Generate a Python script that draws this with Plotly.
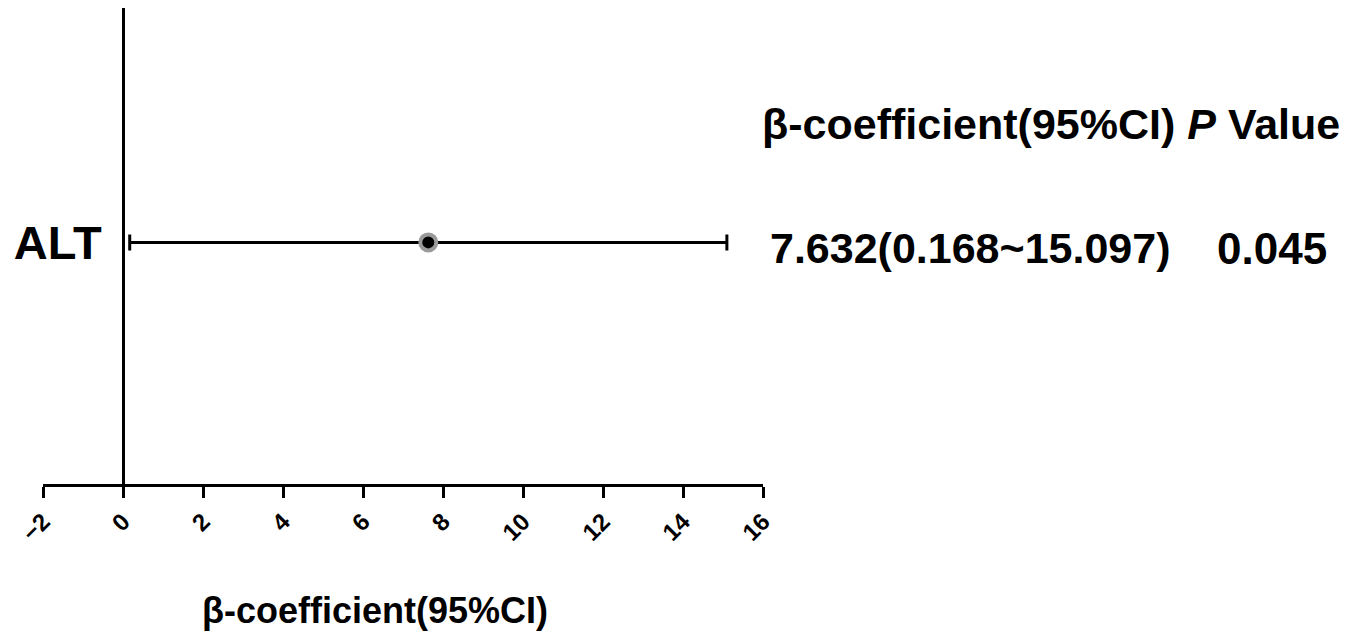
import plotly.graph_objects as go

# ── Data ──────────────────────────────────────────────────────────────────────
labels = ["ALT"]
beta = [7.632]
ci_low = [0.168]
ci_high = [15.097]
p_values = [0.045]
x_ticks = [-2, 0, 2, 4, 6, 8, 10, 12, 14, 16]

FONT = "Liberation Sans, Arial, sans-serif"
OFF = 8                               # page body margin of the html output
W, H = 1347 - OFF, 640 - OFF
L, R, T, B = 43 - OFF, 584, 0, 156   # plot area: x -2..16 -> px 43..763, axis at y 484
PW, PH = W - L - R, H - T - B


def px_x(px):
    """reference pixel x -> paper x"""
    return (px - OFF - L) / PW


def px_y(py):
    """reference pixel y -> paper y"""
    return (H - B - (py - OFF)) / PH


ypos = list(range(1, len(labels) + 1))

fig = go.Figure()
fig.add_trace(go.Scatter(
    x=beta, y=ypos, mode="markers",
    marker=dict(color="black", size=16, line=dict(color="#9a9a9a", width=4)),
    error_x=dict(
        type="data", symmetric=False,
        array=[h - b for h, b in zip(ci_high, beta)],
        arrayminus=[b - lo for b, lo in zip(beta, ci_low)],
        color="black", thickness=3, width=8,
    ),
    showlegend=False, cliponaxis=False,
))

fig.update_xaxes(
    range=[x_ticks[0], x_ticks[-1]], tickvals=x_ticks,
    showline=True, linewidth=3, linecolor="black",
    ticks="outside", ticklen=11, tickwidth=3, tickcolor="black",
    tickangle=-45, tickfont=dict(family=FONT, size=24, color="black", weight="bold"),
    showgrid=False, zeroline=False, automargin=False,
)
fig.update_yaxes(
    range=[0, len(labels) + 0.97], tickvals=ypos, ticktext=labels,
    anchor="free", position=(0 - x_ticks[0]) / (x_ticks[-1] - x_ticks[0]),
    showline=True, linewidth=3, linecolor="black",
    ticks="", ticklabelstandoff=11,
    tickfont=dict(family=FONT, size=47, color="black", weight="bold"),
    showgrid=False, zeroline=False, automargin=False,
)

# column headers and values on the right
fig.add_annotation(
    x=px_x(760), y=px_y(124), xref="paper", yref="paper",
    text="<b>β-coefficient(95%CI) <i>P</i> Value</b>", showarrow=False,
    xanchor="left", yanchor="middle",
    font=dict(family=FONT, size=43, color="black"),
)
for yv, b, lo, hi, p in zip(ypos, beta, ci_low, ci_high, p_values):
    fig.add_annotation(
        x=px_x(768), y=yv, xref="paper", yref="y",
        text=f"<b>{b:.3f}({lo:.3f}~{hi:.3f})</b>", showarrow=False,
        xanchor="left", yanchor="middle", yshift=-6,
        font=dict(family=FONT, size=43, color="black"),
    )
    fig.add_annotation(
        x=px_x(1215), y=yv, xref="paper", yref="y",
        text=f"<b>{p:.3f}</b>", showarrow=False,
        xanchor="left", yanchor="middle", yshift=-6,
        font=dict(family=FONT, size=44, color="black"),
    )

# x-axis title
fig.add_annotation(
    x=px_x(375), y=px_y(610), xref="paper", yref="paper",
    text="<b>β-coefficient(95%CI)</b>", showarrow=False,
    xanchor="center", yanchor="middle",
    font=dict(family=FONT, size=36, color="black"),
)

fig.update_layout(
    width=W, height=H,
    margin=dict(l=L, r=R, t=T, b=B),
    paper_bgcolor="white", plot_bgcolor="white",
)

fig.write_html("out.html")
